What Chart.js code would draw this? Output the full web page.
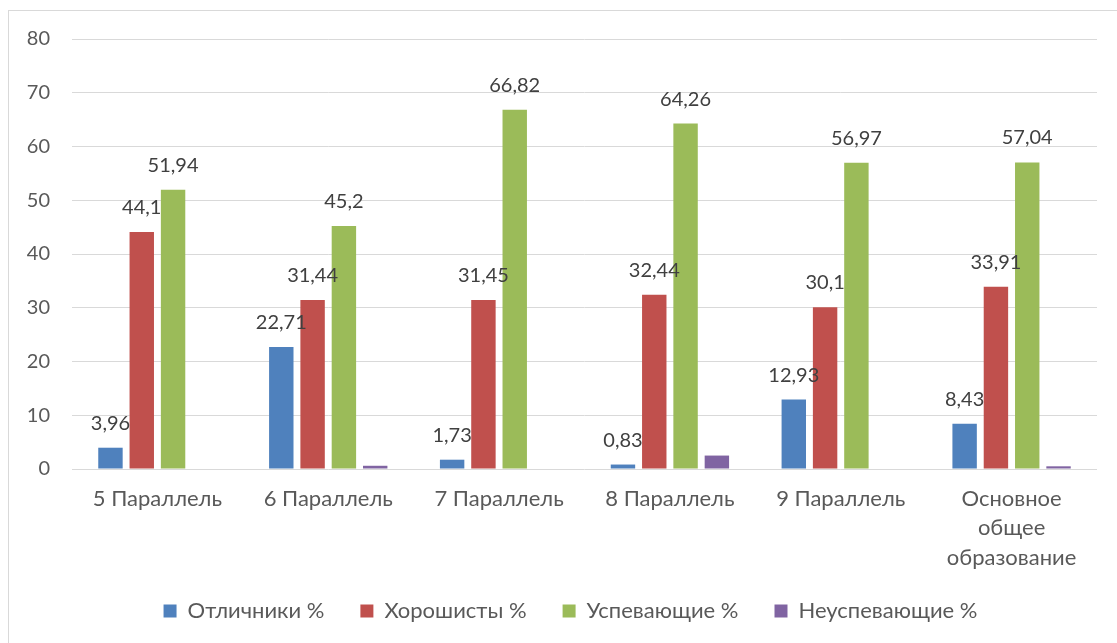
<!DOCTYPE html>
<html>
<head>
<meta charset="utf-8">
<script src="https://cdn.jsdelivr.net/npm/chart.js@4"></script>
<style>
  html, body { margin: 0; padding: 0; background: #fff; }
  #wrap { position: relative; width: 1117px; height: 643px; overflow: hidden; }
  #frame { position: absolute; left: 8px; top: 10px; width: 1200px; height: 700px; border: 1px solid #d9d9d9; box-sizing: border-box; }
  canvas { position: absolute; left: 0; top: 0; }
</style>
</head>
<body>
<div id="wrap">
  <div id="frame"></div>
  <canvas id="chart" width="1117" height="643"></canvas>
</div>
<script>
// categories and series
const categories = ['5 Параллель', '6 Параллель', '7 Параллель', '8 Параллель', '9 Параллель', ['Основное', 'общее', 'образование']];
const otlichniki = [3.96, 22.71, 1.73, 0.83, 12.93, 8.43];
const horoshisty = [44.1, 31.44, 31.45, 32.44, 30.1, 33.91];
const uspevayushchie = [51.94, 45.2, 66.82, 64.26, 56.97, 57.04];
const neuspevayushchie = [0, 0.6, 0, 2.5, 0, 0.5];
const yTicks = [0, 10, 20, 30, 40, 50, 60, 70, 80];

const FONT = 'Lato, "Open Sans", sans-serif';
const LEGEND_PAD = 36;

// value labels above bars (only first three series are labelled)
const valueLabels = {
    id: 'valueLabels',
    afterDatasetsDraw(chart) {
        const c = chart.ctx;
        c.save();
        c.font = '20px ' + FONT;
        c.fillStyle = '#404040';
        c.textAlign = 'center';
        c.textBaseline = 'alphabetic';
        [0, 1, 2].forEach(i => {
            const meta = chart.getDatasetMeta(i);
            meta.data.forEach((bar, j) => {
                const v = chart.data.datasets[i].data[j];
                c.fillText(String(v).replace('.', ','), bar.x, bar.y - 18);
            });
        });
        c.restore();
    }
};

// nudge the legend box: a bit higher and centred like the original
const placeLegend = {
    id: 'placeLegend',
    afterLayout(chart) {
        const lg = chart.legend;
        const h = lg.bottom - lg.top;
        lg.top = 612 - LEGEND_PAD - 12;
        lg.bottom = lg.top + h;
        lg.left += 22;
        lg.right += 22;
    }
};

new Chart(document.getElementById('chart'), {
    type: 'bar',
    data: {
        labels: categories,
        datasets: [
            { label: 'Отличники %', data: otlichniki, backgroundColor: '#4f81bd' },
            { label: 'Хорошисты %', data: horoshisty, backgroundColor: '#c0504d' },
            { label: 'Успевающие %', data: uspevayushchie, backgroundColor: '#9bbb59' },
            { label: 'Неуспевающие %', data: neuspevayushchie, backgroundColor: '#8064a2' }
        ]
    },
    options: {
        responsive: false,
        animation: false,
        devicePixelRatio: 1,
        categoryPercentage: 0.733,
        barPercentage: 0.78,
        layout: { padding: { left: 0, right: 20, top: 39, bottom: -4 } },
        plugins: {
            legend: {
                position: 'bottom',
                labels: {
                    color: '#595959',
                    font: { family: FONT, size: 22 },
                    boxWidth: 13, boxHeight: 13,
                    padding: LEGEND_PAD
                }
            },
            tooltip: { enabled: false }
        },
        scales: {
            x: {
                grid: { display: false },
                border: { display: false },
                afterFit: axis => { axis.height = 110; },
                ticks: { color: '#595959', font: { family: FONT, size: 22, lineHeight: 1.34 }, maxRotation: 0, padding: 7 }
            },
            y: {
                min: 0, max: 80,
                afterBuildTicks: axis => { axis.ticks = yTicks.map(v => ({ value: v })); },
                afterFit: axis => { axis.width = 72; },
                grid: { color: '#d9d9d9', drawTicks: false },
                border: { display: false },
                ticks: { color: '#595959', font: { family: FONT, size: 20 }, padding: 22 }
            }
        }
    },
    plugins: [valueLabels, placeLegend]
});
</script>
</body>
</html>
